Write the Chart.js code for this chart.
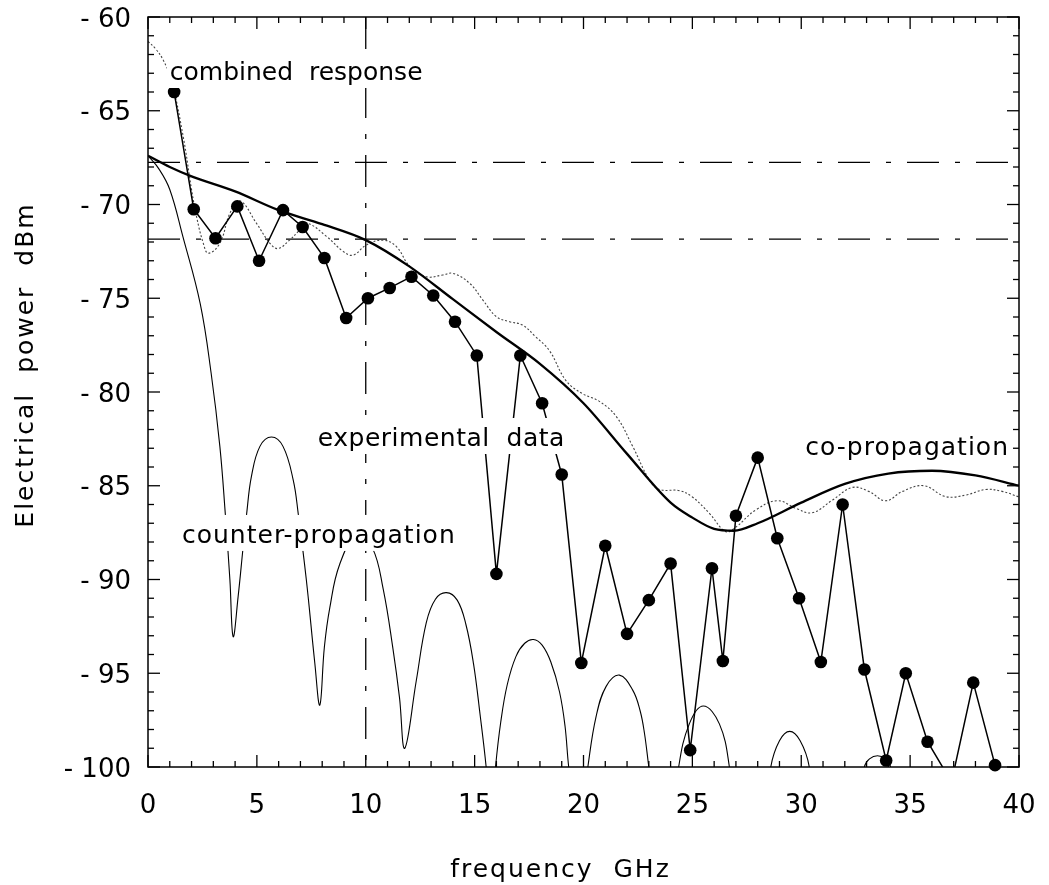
<!DOCTYPE html>
<html>
<head>
<meta charset="utf-8">
<title>Electrical power vs frequency</title>
<script src="https://cdn.jsdelivr.net/npm/chart.js@4"></script>
<style>
  html, body { margin: 0; padding: 0; background: #fff; }
  #wrap { position: relative; width: 1049px; height: 885px; }
</style>
</head>
<body>
<div id="wrap"><canvas id="chart"></canvas></div>
<script>
// experimental data (GHz, dBm) -- 36.9 sits just under the axis
const expFreq = [1.2, 2.1, 3.1, 4.1, 5.1, 6.2, 7.1, 8.1, 9.1, 10.1, 11.1, 12.1, 13.1, 14.1, 15.1,
  16.0, 17.1, 18.1, 19.0, 19.9, 21.0, 22.0, 23.0, 24.0, 24.9, 25.9, 26.4, 27.0, 28.0, 28.9,
  29.9, 30.9, 31.9, 32.9, 33.9, 34.8, 35.8, 36.9, 37.9, 38.9];
const expPower = [-64.0, -70.25, -71.8, -70.1, -73.0, -70.3, -71.2, -72.85, -76.05, -75.0, -74.45, -73.85, -74.85, -76.25, -78.05,
  -89.7, -78.05, -80.6, -84.4, -94.45, -88.2, -92.9, -91.1, -89.15, -99.1, -89.4, -94.35, -86.6, -83.5, -87.8,
  -91.0, -94.4, -86.0, -94.8, -99.65, -95.0, -98.65, -100.8, -95.5, -99.9];

// co-propagation model
const coFreq = [0, 1, 2, 4, 6, 8, 10, 12, 14, 16, 18, 20, 22, 24, 25, 26, 26.9, 28, 30, 32, 34, 36, 38, 40];
const coPower = [-67.4, -68.0, -68.5, -69.3, -70.3, -71.05, -71.9, -73.3, -75.05, -76.8, -78.5, -80.6, -83.3, -85.9,
  -86.7, -87.3, -87.4, -87.0, -85.9, -84.9, -84.35, -84.2, -84.45, -85.0];

// counter-propagation model
const counterFreq = [0, 0.5, 1.0, 1.6, 2.4, 2.9, 3.3, 3.55, 3.76, 3.91, 4.14, 4.37, 4.53, 4.75, 5.14, 5.67, 6.2, 6.67,
  6.9, 7.27, 7.66, 7.89, 8.1, 8.35, 8.8, 9.6, 10.3, 10.8, 11.25, 11.55, 11.79, 12.32, 12.78, 13.2, 13.7, 14.2, 14.6,
  14.95, 15.25, 15.53, 15.75, 15.96, 16.2, 16.5, 16.9, 17.3, 17.7, 18.1, 18.5, 18.9, 19.15, 19.32, 19.75, 20.2, 20.58,
  21.04, 21.65, 22.26, 22.6, 22.8, 23.0, 23.7, 24.37, 24.86, 25.5, 26.24, 26.7, 27.6, 28.6, 29.0, 29.47, 29.95, 30.37,
  31.6, 32.9, 33.5, 34.1, 34.6];
const counterPower = [-67.4, -68.1, -69.2, -71.7, -75.3, -79.0, -82.9, -86.5, -90.0, -93.05, -90.9, -88.25, -86.5,
  -84.5, -82.9, -82.4, -82.9, -84.7, -86.5, -90.0, -94.45, -96.7, -93.6, -91.5, -89.2, -87.6, -88.3, -90.5, -93.7,
  -96.3, -99.0, -95.4, -92.3, -91.05, -90.7, -91.1, -92.4, -94.5, -97.2, -100, -103, -100, -97.6, -95.6, -94.1,
  -93.4, -93.2, -93.5, -94.4, -96.0, -97.8, -100, -104, -100, -97.3, -95.7, -95.1, -95.9, -97.0, -98.2, -100, -106,
  -100, -97.7, -96.75, -97.7, -100, -108, -100, -98.6, -98.1, -98.6, -100, -110, -100, -99.4, -100, -106];

// combined response model
const combFreq = [0, 0.35, 0.7, 1.08, 1.62, 2.0, 2.23, 2.54, 2.77, 3.3, 3.76, 4.22, 4.98, 5.6, 5.97, 6.5, 6.97, 7.3,
  8.2, 8.96, 9.42, 10.03, 10.8, 11.41, 12.02, 12.78, 13.54, 14.0, 14.77, 15.38, 16.0, 16.6, 17.2, 17.8, 18.44, 19.2,
  19.97, 20.73, 21.5, 22.26, 23.03, 23.5, 24.4, 25.0, 25.78, 26.54, 27.0, 27.9, 28.9, 29.75, 30.5, 31.44, 32.35,
  33.1, 33.88, 34.65, 35.64, 36.63, 37.55, 38.47, 39.23, 40];
const combPower = [-61.3, -61.7, -62.3, -63.4, -66.4, -69.2, -70.65, -72.07, -72.6, -72.07, -70.47, -69.8, -71.0,
  -72.07, -72.35, -71.9, -71.36, -71.0, -71.7, -72.5, -72.7, -72.16, -71.9, -72.25, -73.3, -73.85, -73.76, -73.67,
  -74.2, -75.1, -75.98, -76.25, -76.43, -77.05, -77.8, -79.4, -80.1, -80.5, -81.3, -82.9, -84.7, -85.2, -85.26,
  -85.6, -86.47, -87.45, -87.2, -86.3, -85.8, -86.2, -86.44, -85.76, -85.09, -85.3, -85.8, -85.3, -85.0, -85.58,
  -85.5, -85.2, -85.3, -85.6];

// dash-dot guide lines
const refLevels = [-67.75, -71.85];
const refFreq = 10;

const xTicks = [0, 5, 10, 15, 20, 25, 30, 35, 40];
const yTicks = [-60, -65, -70, -75, -80, -85, -90, -95, -100];

const FONT = "'DejaVu Sans', sans-serif";
const DASH_DOT = [32, 16, 5, 16];

// text placed in data coordinates
const notes = [
  { text: 'combined  response', x: 1.0, y: -63.36, spacing: 0 },
  { text: 'experimental  data', x: 7.8, y: -82.88, spacing: 0.5 },
  { text: 'counter-propagation', x: 1.56, y: -88.05, spacing: 1 },
  { text: 'co-propagation', x: 39.54, y: -83.36, spacing: 1, right: true },
];

function pts(xs, ys) {
  return xs.map((x, i) => ({ x, y: ys[i] }));
}

function line(ctx, x1, y1, x2, y2) {
  ctx.beginPath();
  ctx.moveTo(x1, y1);
  ctx.lineTo(x2, y2);
  ctx.stroke();
}

const paperAxes = {
  id: 'paperAxes',
  afterDatasetsDraw(chart) {
    const { ctx, scales: { x, y } } = chart;
    ctx.save();
    ctx.font = `25px ${FONT}`;
    ctx.textBaseline = 'alphabetic';
    notes.forEach(n => {
      ctx.letterSpacing = n.spacing + 'px';
      const w = ctx.measureText(n.text).width;
      const px = x.getPixelForValue(n.x);
      const py = y.getPixelForValue(n.y);
      const left = n.right ? px - w : px;
      ctx.fillStyle = '#fff';
      ctx.fillRect(left - 3, py - 28, w + 6, 36);
      ctx.fillStyle = '#000';
      ctx.fillText(n.text, left, py);
    });
    ctx.restore();
  },
  afterDraw(chart) {
    const { ctx, chartArea: a, scales: { x, y } } = chart;
    ctx.save();
    ctx.strokeStyle = '#000';
    ctx.lineWidth = 1.3;

    // inward ticks on all four sides
    for (let v = x.min; v <= x.max; v++) {
      const px = x.getPixelForValue(v);
      const len = v % 5 === 0 ? 12 : 6;
      line(ctx, px, a.bottom, px, a.bottom - len);
      line(ctx, px, a.top, px, a.top + len);
    }
    for (let v = y.min; v <= y.max; v++) {
      const py = y.getPixelForValue(v);
      const len = v % 5 === 0 ? 12 : 6;
      line(ctx, a.left, py, a.left + len, py);
      line(ctx, a.right, py, a.right - len, py);
    }
    ctx.lineWidth = 1.5;
    ctx.strokeRect(a.left, a.top, a.right - a.left, a.bottom - a.top);

    ctx.fillStyle = '#000';
    ctx.font = `26px ${FONT}`;
    ctx.textBaseline = 'alphabetic';
    ctx.textAlign = 'center';
    xTicks.forEach(v => ctx.fillText(String(v), x.getPixelForValue(v), a.bottom + 46));

    ctx.textAlign = 'right';
    yTicks.forEach(v => ctx.fillText('- ' + Math.abs(v), a.left - 17, y.getPixelForValue(v) + 9.5));

    ctx.font = `25px ${FONT}`;
    ctx.letterSpacing = '2px';
    ctx.textAlign = 'center';
    ctx.fillText('frequency  GHz', (a.left + a.right) / 2 - 23, a.bottom + 110);

    ctx.translate(a.left - 115, a.top + 348);
    ctx.rotate(-Math.PI / 2);
    ctx.fillText('Electrical  power  dBm', 0, 0);
    ctx.restore();
  }
};

const refDatasets = refLevels.map(level => ({
  data: [{ x: 0, y: level }, { x: 40, y: level }],
  borderColor: '#000',
  borderWidth: 1.3,
  borderDash: DASH_DOT,
  pointRadius: 0,
  order: 6,
}));

const expPoints = pts(expFreq, expPower);

new Chart(document.getElementById('chart'), {
  type: 'line',
  data: {
    datasets: [
      {
        label: 'experimental data',
        data: expPoints.filter(p => p.y >= -100),
        showLine: false,
        pointRadius: 6.3,
        pointBackgroundColor: '#000',
        pointBorderColor: '#000',
        pointBorderWidth: 0,
        clip: false,
        order: 0,
      },
      {
        label: 'experimental line',
        data: expPoints,
        borderColor: '#000',
        borderWidth: 1.5,
        pointRadius: 0,
        tension: 0,
        order: 1,
      },
      {
        label: 'co-propagation',
        data: pts(coFreq, coPower),
        borderColor: '#000',
        borderWidth: 2.3,
        pointRadius: 0,
        cubicInterpolationMode: 'monotone',
        order: 2,
      },
      {
        label: 'combined response',
        data: pts(combFreq, combPower),
        borderColor: '#444',
        borderWidth: 1.1,
        borderDash: [2, 2],
        pointRadius: 0,
        tension: 0.4,
        order: 3,
      },
      {
        label: 'counter-propagation',
        data: pts(counterFreq, counterPower),
        borderColor: '#000',
        borderWidth: 1.1,
        pointRadius: 0,
        tension: 0.4,
        order: 4,
      },
      ...refDatasets,
      {
        label: 'marker',
        data: [{ x: refFreq, y: -60 }, { x: refFreq, y: -100 }],
        borderColor: '#000',
        borderWidth: 1.3,
        borderDash: DASH_DOT,
        pointRadius: 0,
        order: 6,
      },
    ],
  },
  options: {
    responsive: true,
    maintainAspectRatio: false,
    animation: false,
    layout: { padding: { left: 148, top: 17, right: 30, bottom: 118 } },
    plugins: {
      legend: { display: false },
      tooltip: { enabled: false },
    },
    scales: {
      x: { type: 'linear', min: 0, max: 40, display: false },
      y: { type: 'linear', min: -100, max: -60, display: false },
    },
  },
  plugins: [paperAxes],
});
</script>
</body>
</html>
